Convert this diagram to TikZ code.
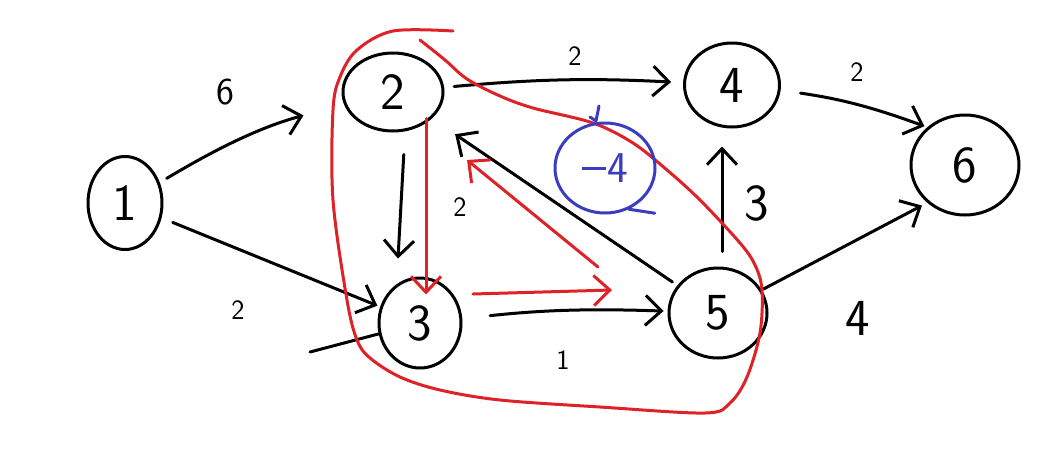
\documentclass[tikz,border=0pt]{standalone}
\usetikzlibrary{shapes.geometric,arrows.meta,calc}
\definecolor{rred}{RGB}{222,34,40}
\definecolor{bblue}{RGB}{58,62,190}
\begin{document}
\begin{tikzpicture}[x=1pt,y=-1pt,line cap=round,line join=round,
  vert/.style={ellipse,draw,line width=3pt,inner sep=0pt,font=\sffamily\fontsize{52}{54}\selectfont},
  edge/.style={line width=3pt,-{Straight Barb[length=16pt,width=30pt]}},
  redge/.style={edge,draw=rred},
  wire/.style={line width=3pt},
  lab/.style={inner sep=0pt,font=\sffamily\fontsize{28}{30}\selectfont},
  biglab/.style={inner sep=0pt,font=\sffamily\fontsize{52}{54}\selectfont}]
\useasboundingbox[fill=white] (0,0) rectangle (1058,453);
% vertices
\node[vert,minimum width=74pt,minimum height=93pt] (n1) at (125,203) {1};
\node[vert,minimum width=100pt,minimum height=78pt] (n2) at (393,92) {2};
\node[vert,minimum width=82pt,minimum height=90pt] (n3) at (420,323) {3};
\node[vert,minimum width=95pt,minimum height=84pt] (n4) at (732,85) {4};
\node[vert,minimum width=98pt,minimum height=90pt] (n5) at (718,313) {5};
\node[vert,minimum width=108pt,minimum height=100pt] (n6) at (965,165) {6};
% black edges
\draw[edge,shorten <=8pt,shorten >=42pt] (n1) to[bend left=8] (n2);
\draw[edge,shorten <=12pt,shorten >=3pt] (n1) -- (n3);
\draw[edge,shorten <=10pt,shorten >=12pt] (n2) to[bend left=4] (n4);
\draw[edge,shorten <=22pt,shorten >=18pt] ([xshift=12pt]n2.south) -- ([xshift=-23pt]n3.north);
\draw[edge,shorten <=6pt,shorten >=28pt] (n5) -- (n2);
\draw[edge,shorten <=28pt,shorten >=4pt] (n3) to[bend left=4] (n5);
\draw[edge,shorten <=15pt,shorten >=18pt] ([xshift=4pt]n5.north) -- ([xshift=-10pt]n4.south);
\draw[edge,shorten <=20pt,shorten >=3pt] (n4) to[bend left=6] (n6.135);
\draw[edge,shorten <=2pt,shorten >=6pt] (n5) -- (n6.225);
\coordinate (in3) at (310,352);
\draw[wire] (in3) -- (n3);
% edge labels
\node[lab,font=\sffamily\fontsize{38}{40}\selectfont] (l12) at (225,92) {6};
\node[lab] (l13) at (238,310) {2};
\node[lab] (l24) at (575,56) {2};
\node[lab] (l23) at (460,207) {2};
\node[lab] (l35) at (563,360) {1};
\node[biglab] (l54) at (757,203) {3};
\node[lab] (l46) at (857,72) {2};
\node[biglab] (l56) at (858,318) {4};
% red arrows
\draw[redge] ([xshift=33pt,yshift=14pt]n2.south) -- ([xshift=6pt,yshift=-18pt]n3.north);
\coordinate (ra) at (473,294);
\coordinate (rb) at (612,290);
\draw[redge] (ra) -- (rb);
\coordinate (rc) at (598,267);
\coordinate (rd) at (467,160);
\draw[redge] (rc) -- (rd);
% red loop
\draw[rred,line width=3pt] plot[smooth,tension=0.55] coordinates {
 (453,31) (393,31) (357,50) (340,77) (333,110) (333,200) (347,300) (357,340)
 (370,358) (400,377) (440,390) (500,400) (600,407) (705,413) (730,403)
 (747,377) (760,333) (762,290) (755,265) (740,243) (700,200) (667,170)
 (633,143) (593,123) (533,108) (500,96) (467,79) (445,60) (420,40)};
% blue annotation
\node[ellipse,draw=bblue,line width=3pt,minimum width=100pt,minimum height=90pt,
  inner sep=0pt,text=bblue,font=\sffamily\fontsize{44}{46}\selectfont] (nb) at (605,168)
  {\rule[12pt]{24pt}{3pt}\hspace{2pt}4};
\draw[bblue,line width=3pt] (nb.-60) -- ++(26,4);
\draw[bblue,line width=3pt] (599,106) -- (596,121) -- (590,117);
\end{tikzpicture}
\end{document}
